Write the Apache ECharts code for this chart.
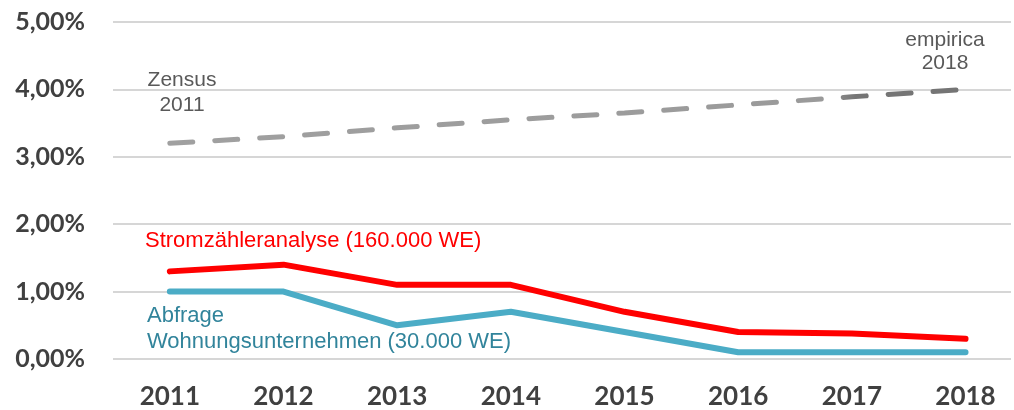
<!DOCTYPE html>
<html><head><meta charset="utf-8">
<script src="https://cdn.jsdelivr.net/npm/echarts@6/dist/echarts.min.js"></script>
<style>html,body{margin:0;padding:0;background:#fff}#c{width:1014px;height:410px}</style>
</head><body><div id="c"></div>
<script>
const years = [2011, 2012, 2013, 2014, 2015, 2016, 2017, 2018];
const zensusEmpirica = [3.2, 3.3, 3.43, 3.55, 3.65, 3.77, 3.89, 4.0];
const stromzaehler = [1.3, 1.4, 1.1, 1.1, 0.7, 0.4, 0.38, 0.3];
const abfrage = [1.0, 1.0, 0.5, 0.7, 0.4, 0.1, 0.1, 0.1];
const yTicks = [0, 1, 2, 3, 4, 5];

const pair = arr => years.map((y, i) => [y, arr[i]]);
const chart = echarts.init(document.getElementById('c'));
const txt = (x, y, text, color, align, size) => ({
  type: 'text', x: x, y: y,
  style: { text, fill: color, font: (size || 22) + 'px "Liberation Sans", Arial, sans-serif',
           textAlign: align || 'left', textVerticalAlign: 'middle' }
});
chart.setOption({
  animation: false,
  grid: { left: 113, right: 0, top: 22, bottom: 50 },
  xAxis: {
    type: 'value', min: 2010.5, max: 2018.4, interval: 0.5,
    splitLine: { show: false }, axisLine: { show: false }, axisTick: { show: false },
    axisLabel: {
      margin: 25, color: '#404040', fontSize: 26, fontWeight: 'bold', fontFamily: 'Lato, "Open Sans", sans-serif',
      formatter: v => (Number.isInteger(v) && years.includes(v)) ? String(v) : ''
    }
  },
  yAxis: {
    type: 'value', min: yTicks[0], max: yTicks[yTicks.length - 1], interval: 1,
    axisLine: { show: false }, axisTick: { show: false },
    splitLine: { lineStyle: { color: '#d6d6d6', width: 2 } },
    axisLabel: {
      margin: 28, color: '#404040', fontSize: 25, fontWeight: 'bold', fontFamily: 'Lato, "Open Sans", sans-serif',
      formatter: v => v.toFixed(2).replace('.', ',') + '%'
    }
  },
  series: [
    {
      type: 'line', data: pair(zensusEmpirica), symbol: 'none',
      lineStyle: {
        width: 5, type: [23, 22], cap: 'round',
        color: new echarts.graphic.LinearGradient(0, 0, 1, 0, [
          { offset: 0, color: '#a0a0a0' }, { offset: 0.82, color: '#9a9a9a' },
          { offset: 0.86, color: '#757575' }, { offset: 1, color: '#757575' }
        ])
      }
    },
    { type: 'line', data: pair(stromzaehler), symbol: 'none', lineStyle: { width: 6, color: '#ff0000', cap: 'round' } },
    { type: 'line', data: pair(abfrage), symbol: 'none', lineStyle: { width: 6, color: '#4bacc6', cap: 'round' } }
  ],
  graphic: [
    txt(182, 80, 'Zensus', '#595959', 'center', 21),
    txt(182, 105, '2011', '#595959', 'center', 21),
    txt(945, 40, 'empirica', '#595959', 'center', 21),
    txt(945, 63, '2018', '#595959', 'center', 21),
    txt(145, 241, 'Stromzähleranalyse (160.000 WE)', '#ff0000'),
    txt(147, 316, 'Abfrage', '#31849b'),
    txt(147, 342, 'Wohnungsunternehmen (30.000 WE)', '#31849b')
  ]
});
</script></body></html>
